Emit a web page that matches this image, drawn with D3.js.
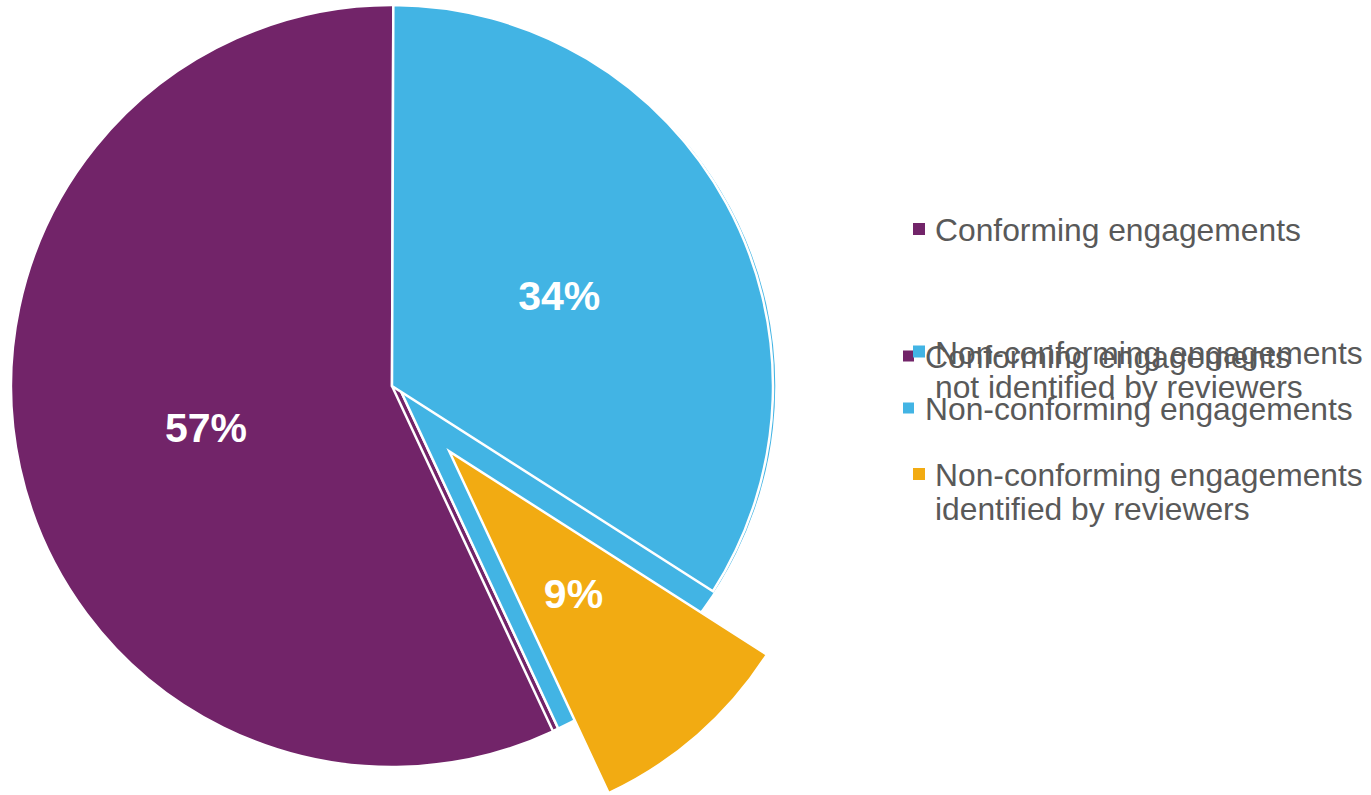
<!DOCTYPE html>
<html>
<head>
<meta charset="utf-8">
<script src="https://cdn.jsdelivr.net/npm/d3@7"></script>
<style>
    body { margin: 0; background: #fff; }
    text { font-family: "Liberation Sans", Arial, sans-serif; }
</style>
</head>
<body>
<script>
// detailed split (front pie)
const categories = [
    'Conforming engagements',
    'Non-conforming engagements not identified by reviewers',
    'Non-conforming engagements identified by reviewers'
];
const shares = [57, 34, 9];
const legendLines = [
    ['Conforming engagements'],
    ['Non-conforming engagements', 'not identified by reviewers'],
    ['Non-conforming engagements', 'identified by reviewers']
];

// overall split (pie behind it)
const overviewCategories = ['Conforming engagements', 'Non-conforming engagements'];
const overviewShares = [57, 43];

const colors = {
    'Conforming engagements': '#722469',
    'Non-conforming engagements not identified by reviewers': '#42B4E4',
    'Non-conforming engagements identified by reviewers': '#F2AB12',
    'Non-conforming engagements': '#42B4E4'
};

const width = 1371;
const height = 795;
const center = { x: 392, y: 386 };
const radius = 381;
const firstSliceAngle = 155 * Math.PI / 180;
const explode = { 'Non-conforming engagements identified by reviewers': 87 };
const explodedRadius = 377;
const textColor = '#595959';

const svg = d3.select('body').append('svg')
    .attr('width', width)
    .attr('height', height);

const pie = d3.pie()
    .sort(null)
    .value(d => d.value)
    .startAngle(firstSliceAngle)
    .endAngle(firstSliceAngle + 2 * Math.PI);

// back pie, a little to the right and smaller
const backArc = d3.arc().innerRadius(0).outerRadius(radius - 3);
const backData = pie(overviewShares.map((v, i) => ({ name: overviewCategories[i], value: v })));

svg.append('g')
    .attr('transform', `translate(${center.x + 6.5},${center.y})`)
    .selectAll('path')
    .data(backData)
    .join('path')
    .attr('d', backArc)
    .attr('fill', d => colors[d.data.name])
    .attr('stroke', '#fff')
    .attr('stroke-width', 2.5);

// front pie
const frontData = pie(shares.map((v, i) => ({ name: categories[i], value: v })));

const slice = svg.append('g')
    .attr('transform', `translate(${center.x},${center.y})`)
    .selectAll('g')
    .data(frontData)
    .join('g')
    .attr('transform', d => {
        const e = explode[d.data.name] || 0;
        const mid = (d.startAngle + d.endAngle) / 2;
        return `translate(${Math.sin(mid) * e},${-Math.cos(mid) * e})`;
    });

slice.append('path')
    .attr('d', d => d3.arc().innerRadius(0)
        .outerRadius(explode[d.data.name] ? explodedRadius : radius)(d))
    .attr('fill', d => colors[d.data.name])
    .attr('stroke', '#fff')
    .attr('stroke-width', 2.5);

slice.append('text')
    .attr('transform', d => {
        const r = explode[d.data.name] ? explodedRadius : radius;
        const [x, y] = d3.arc().innerRadius(0).outerRadius(r).centroid(d);
        return `translate(${x},${y})`;
    })
    .attr('text-anchor', 'middle')
    .attr('dy', '0.36em')
    .attr('fill', '#fff')
    .attr('font-weight', 'bold')
    .attr('font-size', 41)
    .text(d => `${d.data.value}%`);

// legend of back pie (sits under the front legend)
const backLegend = svg.append('g')
    .selectAll('g')
    .data(overviewCategories)
    .join('g')
    .attr('transform', (d, i) => `translate(903,${356 + i * 52})`);

backLegend.append('rect')
    .attr('y', -5.5)
    .attr('width', 11)
    .attr('height', 11)
    .attr('fill', d => colors[d]);

backLegend.append('text')
    .attr('x', 22)
    .attr('y', 12)
    .attr('font-size', 31.8)
    .attr('fill', textColor)
    .text(d => d);

// legend of front pie
const legend = svg.append('g')
    .selectAll('g')
    .data(categories)
    .join('g')
    .attr('transform', (d, i) => `translate(913,${229 + i * 122.5})`);

legend.append('rect')
    .attr('y', -6)
    .attr('width', 12)
    .attr('height', 12)
    .attr('fill', d => colors[d]);

legend.append('text')
    .attr('font-size', 31.8)
    .attr('fill', textColor)
    .selectAll('tspan')
    .data((d, i) => legendLines[i])
    .join('tspan')
    .attr('x', 22)
    .attr('y', (d, i) => 12 + i * 34)
    .text(d => d);
</script>
</body>
</html>
